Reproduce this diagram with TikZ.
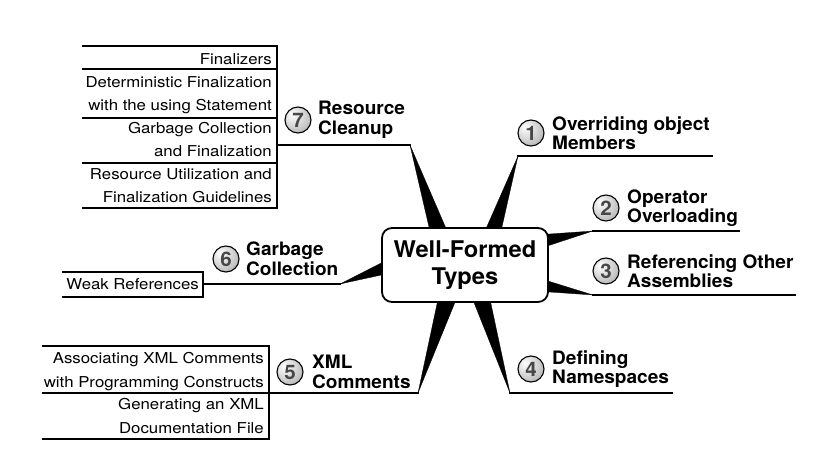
\documentclass[tikz,border=0pt]{standalone}
\usepackage{fontspec}
\setmainfont{TeX Gyre Heros}
\newfontfamily\tabfont[FakeStretch=1.12]{TeX Gyre Heros}
\newfontfamily\topicfont[FakeStretch=1.03]{TeX Gyre Heros}
\pgfdeclareradialshading{numball}{\pgfpoint{-12bp}{12bp}}{color(0bp)=(white); color(15bp)=(white!88!black); color(40bp)=(white!66!black); color(70bp)=(white!52!black)}
\begin{document}
\begin{tikzpicture}[x=1pt,y=-1pt,
  tabtext/.style={anchor=base east, inner sep=0pt, font=\tabfont\fontsize{15}{17}\selectfont},
  topic/.style={anchor=west, inner sep=0pt, align=left, font=\topicfont\bfseries\fontsize{18.5}{19.5}\selectfont},
  numcirc/.style={circle, draw=black, line width=1.1pt, minimum size=26pt, inner sep=0pt, shade, shading=numball, font=\topicfont\bfseries\fontsize{20}{20}\selectfont, text=black!72},
  rule/.style={line width=1.3pt, line cap=rect},
  spoke/.style={fill=black, draw=black, line width=0.3pt, line join=miter},
  hub/.style={draw, line width=1.8pt, rounded corners=10pt, fill=white, minimum width=166pt, minimum height=74pt, align=center, font=\topicfont\bfseries\fontsize{23}{27}\selectfont}
]
\useasboundingbox (0,0) rectangle (835,473);

% tips of spokes
\coordinate (t1) at (518,156);
\coordinate (t2) at (593,231);
\coordinate (t3) at (593,295);
\coordinate (t4) at (510,393);
\coordinate (t5) at (418,393);
\coordinate (t6) at (340,284);
\coordinate (t7) at (410,145);

% spokes
\fill[spoke] (t7) -- (432,240) -- (451,240) -- cycle;
\fill[spoke] (t1) -- (481,240) -- (499,240) -- cycle;
\fill[spoke] (t2) -- (535,235) -- (535,250) -- cycle;
\fill[spoke] (t3) -- (535,277) -- (535,291) -- cycle;
\fill[spoke] (t4) -- (469,290) -- (488,290) -- cycle;
\fill[spoke] (t5) -- (440,290) -- (460,290) -- cycle;
\fill[spoke] (t6) -- (395,256) -- (395,272) -- cycle;

% hub
\node[hub] (hub) at (465,265) {Well-Formed\\Types};

% far ends of underlines
\coordinate (e1) at (712,156);
\coordinate (e2) at (739,231);
\coordinate (e3) at (795,295);
\coordinate (e4) at (672,393);
\coordinate (e5) at (43,393);
\coordinate (e6) at (203,284);
\coordinate (e7) at (277,145);

\draw[rule] (t1) -- (e1);
\draw[rule] (t2) -- (e2);
\draw[rule] (t3) -- (e3);
\draw[rule] (t4) -- (e4);
\draw[rule] (t5) -- (e5);
\draw[rule] (t6) -- (e6);
\draw[rule] (t7) -- (e7);

% topic labels
\node[numcirc] (c1) at (531,133) {1};
\node[topic] (l1) at (552,133) {Overriding object\\Members};
\node[numcirc] (c2) at (606,208) {2};
\node[topic] (l2) at (627,208) {Operator\\Overloading};
\node[numcirc] (c3) at (606,271) {3};
\node[topic] (l3) at (627,271) {Referencing Other\\Assemblies};
\node[numcirc] (c4) at (531,369) {4};
\node[topic] (l4) at (552,369) {Defining\\Namespaces};
\node[numcirc] (c5) at (290,372) {5};
\node[topic] (l5) at (312,372) {XML\\Comments};
\node[numcirc] (c6) at (226,259) {6};
\node[topic] (l6) at (246,259) {Garbage\\Collection};
\node[numcirc] (c7) at (298,120) {7};
\node[topic] (l7) at (318,120) {Resource\\Cleanup};

% table of topic 7
\draw[rule] (83,46) -- (277,46) -- (277,208) -- (83,208);
\draw[rule] (83,69) -- (277,69);
\draw[rule] (83,118) -- (277,118);
\draw[rule] (83,163) -- (277,163);
\node[tabtext] (s7a) at (272,64.5) {Finalizers};
\node[tabtext] (s7b) at (272,88) {Deterministic Finalization};
\node[tabtext] (s7c) at (272,111) {with the using Statement};
\node[tabtext] (s7d) at (272,133.5) {Garbage Collection};
\node[tabtext] (s7e) at (272,157) {and Finalization};
\node[tabtext] (s7f) at (272,180) {Resource Utilization and};
\node[tabtext] (s7g) at (272,203) {Finalization Guidelines};

% table of topic 6
\draw[rule] (63,272) -- (203,272) -- (203,297) -- (63,297);
\node[tabtext] (s6a) at (199,289) {Weak References};

% table of topic 5
\draw[rule] (43,346) -- (269,346) -- (269,439) -- (43,439);
\node[tabtext] (s5a) at (264,363.5) {Associating XML Comments};
\node[tabtext] (s5b) at (264,387) {with Programming Constructs};
\node[tabtext] (s5c) at (264,409) {Generating an XML};
\node[tabtext] (s5d) at (264,433) {Documentation File};
\end{tikzpicture}
\end{document}
